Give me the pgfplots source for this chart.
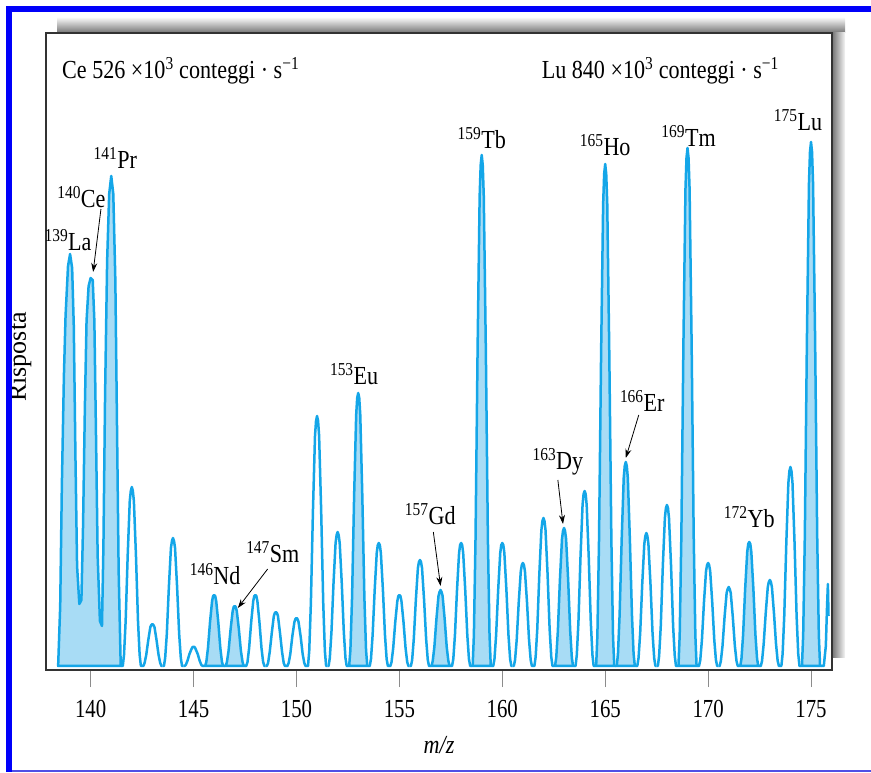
\documentclass[border=0pt]{standalone}
\usepackage{fontspec}
\setmainfont{Liberation Serif}
\usepackage{graphicx}
\usepackage{pgfplots}
\pgfplotsset{compat=1.18}
\usetikzlibrary{arrows.meta}
\definecolor{specline}{RGB}{20,166,232}
\definecolor{specfill}{RGB}{168,220,245}
\definecolor{frameblue}{RGB}{0,0,250}
\definecolor{bottomblue}{RGB}{80,80,230}
\newcommand\hs[1]{\scalebox{0.85}[1]{#1}}
\newcommand\tk[1]{\scalebox{0.8}[1]{#1}}
\newcommand\iso[2]{\hs{\textsuperscript{#1}#2}}
\pgfplotsset{pk/.style={draw=specline, line width=2.5pt, line join=round},
  pkf/.style={pk, fill=specfill}}
\begin{document}
\fontsize{26}{30}\selectfont
\begin{tikzpicture}
\useasboundingbox (0pt,0pt) rectangle (871pt,772pt);
\shade[top color=black!4, bottom color=black!55] (57pt,739pt) rectangle (845pt,754pt);
\shade[left color=black!55, right color=black!4] (832pt,114pt) rectangle (845pt,739pt);
\begin{axis}[at={(46pt,102pt)}, anchor=south west, scale only axis,
  width=786pt, height=637pt,
  xmin=137.83, xmax=176.02, ymin=-4, ymax=633,
  axis background/.style={fill=white},
  axis line style={draw=black!80, line width=1.6pt},
  xtick={140,145,150,155,160,165,170,175},
  xticklabels={\tk{140},\tk{145},\tk{150},\tk{155},\tk{160},\tk{165},\tk{170},\tk{175}},
  xticklabel style={yshift=-4pt},
  ytick=\empty, xtick pos=left, tick align=outside,
  major tick length=17pt,
  x tick style={draw=black!45, line width=1pt},
  clip=true]
% 139-141 cluster
\addplot[pkf] coordinates {(138.42,0)(138.52,60)(138.6,180)(138.7,290)(138.78,350)(138.9,400)(139,412)(139.1,398)(139.18,340)(139.26,210)(139.34,100)(139.45,62)(139.55,66)(139.63,140)(139.72,260)(139.8,345)(139.9,380)(140,388)(140.1,386)(140.18,345)(140.26,230)(140.34,110)(140.45,45)(140.55,40)(140.62,120)(140.7,270)(140.8,405)(140.9,472)(141,490)(141.1,472)(141.2,385)(141.28,240)(141.36,95)(141.46,0)(141.5,0)} \closedcycle;
\addplot[pk] coordinates {(141.5,0)(141.56,0)(141.62,11)(141.7,45)(141.8,111)(141.9,165)(141.95,175)(142,179)(142.05,175)(142.1,165)(142.2,111)(142.3,45)(142.38,11)(142.44,0)(142.5,0)};
\addplot[pk] coordinates {(142.5,0)(142.56,0)(142.62,3)(142.7,11)(142.8,26)(142.9,39)(142.95,41)(143,42)(143.05,41)(143.1,39)(143.2,26)(143.3,11)(143.38,3)(143.44,0)(143.5,0)};
\addplot[pk] coordinates {(143.5,0)(143.56,0)(143.62,8)(143.7,32)(143.8,79)(143.9,118)(143.95,125)(144,128)(144.05,125)(144.1,118)(144.2,79)(144.3,32)(144.38,8)(144.44,0)(144.5,0)};
\addplot[pk] coordinates {(144.5,0)(144.56,0)(144.62,1)(144.7,5)(144.8,12)(144.9,17)(144.95,19)(145,19)(145.05,19)(145.1,17)(145.2,12)(145.3,5)(145.38,1)(145.44,0)(145.5,0)};
\addplot[pkf] coordinates {(145.5,0)(145.56,0)(145.62,4)(145.7,18)(145.8,44)(145.9,65)(145.95,70)(146,71)(146.05,70)(146.1,65)(146.2,44)(146.3,18)(146.38,4)(146.44,0)(146.5,0)} \closedcycle;
\addplot[pkf] coordinates {(146.5,0)(146.56,0)(146.62,4)(146.7,15)(146.8,37)(146.9,55)(146.95,59)(147,60)(147.05,59)(147.1,55)(147.2,37)(147.3,15)(147.38,4)(147.44,0)(147.5,0)} \closedcycle;
\addplot[pk] coordinates {(147.5,0)(147.56,0)(147.62,4)(147.7,18)(147.8,44)(147.9,65)(147.95,70)(148,71)(148.05,70)(148.1,65)(148.2,44)(148.3,18)(148.38,4)(148.44,0)(148.5,0)};
\addplot[pk] coordinates {(148.5,0)(148.56,0)(148.62,3)(148.7,14)(148.8,33)(148.9,50)(148.95,53)(149,54)(149.05,53)(149.1,50)(149.2,33)(149.3,14)(149.38,3)(149.44,0)(149.5,0)};
\addplot[pk] coordinates {(149.5,0)(149.56,0)(149.62,3)(149.7,12)(149.8,30)(149.9,44)(149.95,47)(150,48)(150.05,47)(150.1,44)(150.2,30)(150.3,12)(150.38,3)(150.44,0)(150.5,0)};
\addplot[pk] coordinates {(150.5,0)(150.56,0)(150.62,15)(150.7,63)(150.8,155)(150.9,230)(150.95,245)(151,250)(151.05,245)(151.1,230)(151.2,155)(151.3,63)(151.38,15)(151.44,0)(151.5,0)};
\addplot[pk] coordinates {(151.5,0)(151.56,0)(151.62,8)(151.7,34)(151.8,83)(151.9,123)(151.95,131)(152,134)(152.05,131)(152.1,123)(152.2,83)(152.3,34)(152.38,8)(152.44,0)(152.5,0)};
\addplot[pkf] coordinates {(152.5,0)(152.56,0)(152.62,16)(152.7,68)(152.8,169)(152.9,251)(152.95,268)(153,273)(153.05,268)(153.1,251)(153.2,169)(153.3,68)(153.38,16)(153.44,0)(153.5,0)} \closedcycle;
\addplot[pk] coordinates {(153.5,0)(153.56,0)(153.62,7)(153.7,31)(153.8,76)(153.9,113)(153.95,121)(154,123)(154.05,121)(154.1,113)(154.2,76)(154.3,31)(154.38,7)(154.44,0)(154.5,0)};
\addplot[pk] coordinates {(154.5,0)(154.56,0)(154.62,4)(154.7,18)(154.8,44)(154.9,65)(154.95,70)(155,71)(155.05,70)(155.1,65)(155.2,44)(155.3,18)(155.38,4)(155.44,0)(155.5,0)};
\addplot[pk] coordinates {(155.5,0)(155.56,0)(155.62,6)(155.7,27)(155.8,66)(155.9,98)(155.95,104)(156,106)(156.05,104)(156.1,98)(156.2,66)(156.3,27)(156.38,6)(156.44,0)(156.5,0)};
\addplot[pkf] coordinates {(156.5,0)(156.56,0)(156.62,5)(156.7,19)(156.8,47)(156.9,70)(156.95,74)(157,76)(157.05,74)(157.1,70)(157.2,47)(157.3,19)(157.38,5)(157.44,0)(157.5,0)} \closedcycle;
\addplot[pk] coordinates {(157.5,0)(157.56,0)(157.62,7)(157.7,31)(157.8,76)(157.9,113)(157.95,121)(158,123)(158.05,121)(158.1,113)(158.2,76)(158.3,31)(158.38,7)(158.44,0)(158.5,0)};
\addplot[pkf] coordinates {(158.5,0)(158.56,0)(158.62,31)(158.7,128)(158.8,317)(158.9,470)(158.95,501)(159,511)(159.05,501)(159.1,470)(159.2,317)(159.3,128)(159.38,31)(159.44,0)(159.5,0)} \closedcycle;
\addplot[pk] coordinates {(159.5,0)(159.56,0)(159.62,7)(159.7,31)(159.8,76)(159.9,113)(159.95,121)(160,123)(160.05,121)(160.1,113)(160.2,76)(160.3,31)(160.38,7)(160.44,0)(160.5,0)};
\addplot[pk] coordinates {(160.5,0)(160.56,0)(160.62,6)(160.7,26)(160.8,64)(160.9,95)(160.95,101)(161,103)(161.05,101)(161.1,95)(161.2,64)(161.3,26)(161.38,6)(161.44,0)(161.5,0)};
\addplot[pk] coordinates {(161.5,0)(161.56,0)(161.62,9)(161.7,37)(161.8,92)(161.9,136)(161.95,145)(162,148)(162.05,145)(162.1,136)(162.2,92)(162.3,37)(162.38,9)(162.44,0)(162.5,0)};
\addplot[pkf] coordinates {(162.5,0)(162.56,0)(162.62,8)(162.7,35)(162.8,86)(162.9,127)(162.95,135)(163,138)(163.05,135)(163.1,127)(163.2,86)(163.3,35)(163.38,8)(163.44,0)(163.5,0)} \closedcycle;
\addplot[pk] coordinates {(163.5,0)(163.56,0)(163.62,11)(163.7,44)(163.8,109)(163.9,161)(163.95,172)(164,175)(164.05,172)(164.1,161)(164.2,109)(164.3,44)(164.38,11)(164.44,0)(164.5,0)};
\addplot[pkf] coordinates {(164.5,0)(164.56,0)(164.62,30)(164.7,126)(164.8,311)(164.9,462)(164.95,492)(165,502)(165.05,492)(165.1,462)(165.2,311)(165.3,126)(165.38,30)(165.44,0)(165.5,0)} \closedcycle;
\addplot[pkf] coordinates {(165.5,0)(165.56,0)(165.62,12)(165.7,51)(165.8,126)(165.9,188)(165.95,200)(166,204)(166.05,200)(166.1,188)(166.2,126)(166.3,51)(166.38,12)(166.44,0)(166.5,0)} \closedcycle;
\addplot[pk] coordinates {(166.5,0)(166.56,0)(166.62,8)(166.7,33)(166.8,82)(166.9,122)(166.95,130)(167,133)(167.05,130)(167.1,122)(167.2,82)(167.3,33)(167.38,8)(167.44,0)(167.5,0)};
\addplot[pk] coordinates {(167.5,0)(167.56,0)(167.62,10)(167.7,40)(167.8,100)(167.9,148)(167.95,158)(168,161)(168.05,158)(168.1,148)(168.2,100)(168.3,40)(168.38,10)(168.44,0)(168.5,0)};
\addplot[pkf] coordinates {(168.5,0)(168.56,0)(168.62,31)(168.7,130)(168.8,321)(168.9,477)(168.95,508)(169,518)(169.05,508)(169.1,477)(169.2,321)(169.3,130)(169.38,31)(169.44,0)(169.5,0)} \closedcycle;
\addplot[pk] coordinates {(169.5,0)(169.56,0)(169.62,6)(169.7,26)(169.8,64)(169.9,95)(169.95,101)(170,103)(170.05,101)(170.1,95)(170.2,64)(170.3,26)(170.38,6)(170.44,0)(170.5,0)};
\addplot[pk] coordinates {(170.5,0)(170.56,0)(170.62,5)(170.7,20)(170.8,49)(170.9,73)(170.95,77)(171,79)(171.05,77)(171.1,73)(171.2,49)(171.3,20)(171.38,5)(171.44,0)(171.5,0)};
\addplot[pkf] coordinates {(171.5,0)(171.56,0)(171.62,7)(171.7,31)(171.8,77)(171.9,114)(171.95,122)(172,124)(172.05,122)(172.1,114)(172.2,77)(172.3,31)(172.38,7)(172.44,0)(172.5,0)} \closedcycle;
\addplot[pk] coordinates {(172.5,0)(172.56,0)(172.62,5)(172.7,22)(172.8,53)(172.9,79)(172.95,84)(173,86)(173.05,84)(173.1,79)(173.2,53)(173.3,22)(173.38,5)(173.44,0)(173.5,0)};
\addplot[pk] coordinates {(173.5,0)(173.56,0)(173.62,12)(173.7,50)(173.8,123)(173.9,183)(173.95,195)(174,199)(174.05,195)(174.1,183)(174.2,123)(174.3,50)(174.38,12)(174.44,0)(174.5,0)};
\addplot[pkf] coordinates {(174.5,0)(174.56,0)(174.62,31)(174.7,131)(174.8,325)(174.9,482)(174.95,514)(175,524)(175.05,514)(175.1,482)(175.2,325)(175.3,131)(175.38,31)(175.44,0)(175.5,0)} \closedcycle;
\addplot[pk] coordinates {(175.5,0)(175.62,0)(175.72,20)(175.78,60)(175.82,82)(175.85,50)};
% labels
\node at (axis cs:138.9,426) {\iso{139}{La}};
\node at (axis cs:139.55,469) {\iso{140}{Ce}};
\draw[-{Stealth[length=9pt,width=6pt]}, line width=0.8pt] (axis cs:140.5,457) -- (axis cs:140.12,394);
\node at (axis cs:141.2,508) {\iso{141}{Pr}};
\node at (axis cs:146.05,92) {\iso{146}{Nd}};
\node at (axis cs:148.85,114) {\iso{147}{Sm}};
\draw[-{Stealth[length=9pt,width=6pt]}, line width=0.8pt] (axis cs:148.6,97) -- (axis cs:147.15,58);
\node at (axis cs:152.8,292) {\iso{153}{Eu}};
\node at (axis cs:156.5,152) {\iso{157}{Gd}};
\draw[-{Stealth[length=9pt,width=6pt]}, line width=0.8pt] (axis cs:156.65,134) -- (axis cs:157.0,80);
\node at (axis cs:159.0,528) {\iso{159}{Tb}};
\node at (axis cs:162.7,204) {\iso{163}{Dy}};
\draw[-{Stealth[length=9pt,width=6pt]}, line width=0.8pt] (axis cs:162.7,186) -- (axis cs:162.95,142);
\node at (axis cs:165.0,521) {\iso{165}{Ho}};
\node at (axis cs:166.8,265) {\iso{166}{Er}};
\draw[-{Stealth[length=9pt,width=6pt]}, line width=0.8pt] (axis cs:166.63,251) -- (axis cs:166.0,208);
\node at (axis cs:169.05,530) {\iso{169}{Tm}};
\node at (axis cs:172.0,149) {\iso{172}{Yb}};
\node at (axis cs:174.37,546) {\iso{175}{Lu}};
\end{axis}
\node[anchor=base west, inner sep=0pt] at (62pt,693pt) {\hs{Ce 526 ×10\textsuperscript{3} conteggi · s\textsuperscript{−1}}};
\node[anchor=base east, inner sep=0pt] at (779pt,693pt) {\hs{Lu 840 ×10\textsuperscript{3} conteggi · s\textsuperscript{−1}}};
\node at (439pt,27pt) {\hs{\itshape m/z}};
\node[rotate=90] at (20pt,415pt) {Risposta};
\fill[frameblue] (6pt,760pt) rectangle (871pt,766pt);
\fill[frameblue] (6pt,0pt) rectangle (12pt,766pt);
\fill[bottomblue] (12pt,0.5pt) rectangle (871pt,2.5pt);
\end{tikzpicture}
\end{document}
